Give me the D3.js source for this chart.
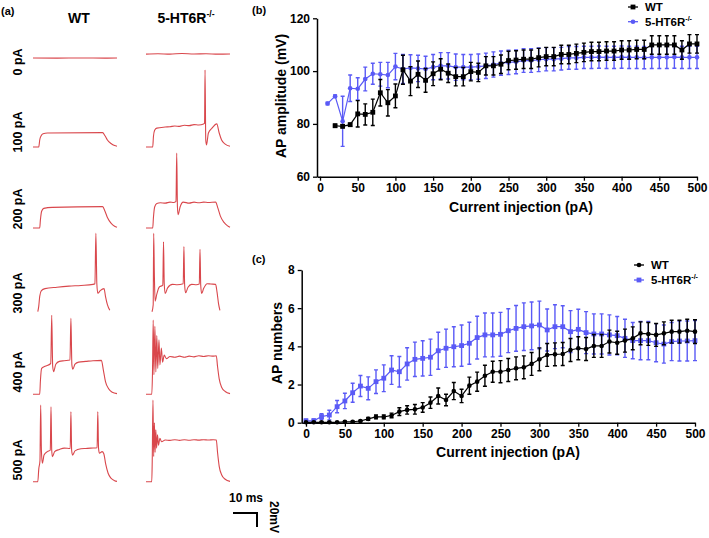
<!DOCTYPE html>
<html><head><meta charset="utf-8">
<script src="https://cdn.jsdelivr.net/npm/d3@7/dist/d3.min.js"></script>
<style>
html,body{margin:0;padding:0;background:#fff;}
svg{display:block;font-family:"Liberation Sans",Arial,sans-serif;}
</style></head>
<body>
<svg id="fig" width="709" height="538"></svg>
<script>
// ---------- DATA ----------
const currents = [0,10,20,30,40,50,60,70,80,90,100,110,120,130,140,150,160,170,180,190,200,210,220,230,240,250,260,270,280,290,300,310,320,330,340,350,360,370,380,390,400,410,420,430,440,450,460,470,480,490,500];

// Panel b: AP amplitude (mV)
const ampWT = [null,null,79.3,79.1,79.7,83.8,83.6,84.4,91.8,88.0,90.6,100.5,96.2,98.8,96.5,99.0,100.7,99.2,97.9,97.9,99.8,99.5,102.0,102.0,102.6,104.0,104.2,104.5,104.5,105.1,105.5,105.5,106.3,106.3,106.7,107.1,107.4,107.4,107.6,107.6,108.0,108.0,108.2,108.2,109.9,109.9,109.9,109.9,108.0,110.3,110.3];
const ampWTerr = [null,null,0.6,0.6,0.6,5,4,5,5,5,4.5,5.5,5.5,5,4.5,4.5,4,3.5,3.5,3.5,3.5,3.5,3.5,3.5,3.5,3.5,3.5,3.5,3.5,3.5,3.5,3.5,3.5,3.5,3.5,3.5,3.5,3.5,3.5,3.5,3.5,3.5,3.5,3.5,3.5,3.5,3.5,3.5,3.5,3.5,3.5];
const ampKO = [null,87.7,90.5,81.0,93.5,93.3,97.0,99.0,98.8,98.5,101.7,100.8,101.2,101.0,100.8,101.5,102.0,102.0,101.5,101.5,101.5,101.7,102.0,102.5,103.0,103.3,103.5,104.0,104.0,104.3,104.5,104.5,104.7,105.0,105.0,105.2,105.2,105.3,105.2,105.2,105.3,105.2,105.2,105.1,105.2,105.2,105.2,105.3,105.2,105.2,105.2];
const ampKOerr = [null,0.5,0.5,9.5,5,4.2,4.5,4,4.5,4.8,5,5.5,5,5,4.8,4.8,5,5,5,4.8,4.8,4.8,4.8,4.8,4.6,4.6,4.5,4.5,4.5,4.5,4.4,4.4,4.3,4.3,4.3,4.2,4.2,4.2,4.2,4.2,4.2,4.2,4.2,4.2,4.2,4.2,4.2,4.2,4.2,4.2,4.2];

// Panel c: AP numbers
const numWT = [0.02,0.02,0.02,0.02,0.02,0.05,0.05,0.09,0.2,0.3,0.3,0.38,0.58,0.67,0.7,0.8,1.05,1.4,1.19,1.66,1.4,1.94,2.15,2.46,2.67,2.67,2.76,2.85,2.9,3.08,3.32,3.55,3.58,3.6,3.81,3.9,3.86,4.02,4.02,4.25,4.19,4.3,4.42,4.68,4.65,4.6,4.68,4.77,4.77,4.82,4.77];
const numWTerr = [0.03,0.03,0.03,0.03,0.03,0.03,0.03,0.03,0.08,0.1,0.1,0.12,0.2,0.22,0.25,0.25,0.3,0.42,0.3,0.45,0.35,0.45,0.5,0.55,0.55,0.58,0.6,0.6,0.6,0.6,0.6,0.6,0.6,0.6,0.6,0.6,0.6,0.6,0.6,0.6,0.6,0.6,0.6,0.6,0.6,0.6,0.6,0.6,0.6,0.6,0.62];
const numKO = [0.1,0.1,0.32,0.4,0.84,1.14,1.57,1.92,1.8,2.15,2.33,2.76,2.67,3.08,3.32,3.37,3.43,3.77,3.9,3.98,4.04,4.16,4.46,4.6,4.6,4.63,4.82,4.94,5.03,5.07,5.12,4.86,5.03,5.03,4.77,4.89,4.72,4.65,4.65,4.6,4.56,4.42,4.3,4.3,4.3,4.19,4.12,4.25,4.28,4.28,4.3];
const numKOerr = [0.08,0.1,0.15,0.25,0.32,0.4,0.5,0.55,0.6,0.62,0.7,0.75,0.8,0.85,0.9,0.92,0.95,0.97,1.0,1.05,1.08,1.1,1.12,1.15,1.15,1.15,1.15,1.2,1.25,1.25,1.25,1.1,1.15,1.1,1.1,1.05,1.1,1.05,1.05,1.05,1.0,1.0,0.95,1.0,1.0,1.0,1.0,1.0,1.05,1.05,1.05];

const xTicks = [0,50,100,150,200,250,300,350,400,450,500];
const ampTicks = [60,80,100,120];
const numTicks = [0,2,4,6,8];
const seriesNames = ["WT","5-HT6R"];
const rowLabels = ["0 pA","100 pA","200 pA","300 pA","400 pA","500 pA"];

// Panel a: example voltage traces, [time ms, membrane potential mV]
const traceWT0 = [[0,-70],[10,-70.2],[20,-70],[30,-70.2],[35,-70]];
const traceKO0 = [[0,-64.5],[5,-64],[10,-64.5],[15,-63.5],[20,-64.3],[25,-64],[30,-64.5],[35,-64.2]];
const traceWT100 = [[0,-70],[2.4,-70],[2.8,-60],[3.4,-54],[4.2,-51],[6,-50],[29,-49.5],[30,-54],[31,-60],[32.5,-65],[34,-68],[35,-69]];
const traceKO100 = [[0,-70],[2.8,-70],[3.1,-55],[3.6,-46],[4.5,-43],[8,-41.5],[10,-41],[12,-40],[14,-40.5],[16,-39],[18,-39.5],[20,-38],[22,-38.5],[24,-37],[24.4,-36],[24.6,40],[24.9,-60],[25.2,-67],[26,-50],[27.5,-43],[29.5,-37],[30.5,-50],[31.5,-60],[33,-66],[35,-69]];
const traceWT200 = [[0,-70],[2.8,-70],[3.1,-58],[3.6,-46],[4.5,-42],[8,-40.5],[29,-39.5],[30,-46],[31,-55],[32.5,-63],[34,-67.5],[35,-69]];
const traceKO200 = [[0,-70],[2.8,-70],[3.1,-55],[3.6,-40],[4.5,-35],[6,-34],[8,-34.5],[10,-33],[11.5,-33.5],[12.5,-32],[12.8,37],[13.1,-40],[13.4,-51],[14.2,-40],[15.5,-33],[18,-34.5],[20,-33],[22,-34],[24,-33],[26,-33.5],[29,-33],[30,-42],[31,-53],[32.5,-62],[34,-67],[35,-69]];
const traceWT300 = [[2,-70],[2.4,-62],[2.8,-48],[3.5,-40],[5,-37],[10,-35],[15,-33.5],[20,-32.5],[25,-31],[25.8,-30],[26.2,42],[26.6,-30],[27,-43.7],[28,-40],[29.6,-37],[30.2,-48],[31,-60],[32,-68]];
const traceKO300 = [[2.5,-70],[3.0,-60],[3.2,42],[3.5,-20],[3.8,-55],[4.5,-45],[5.5,-35],[7,-32],[7.3,30],[7.6,-30],[8,-44],[9,-36],[11,-31],[13,-31.5],[15.5,-30],[15.8,23],[16.1,-32],[16.5,-43],[17.5,-35],[19,-31],[21,-31.5],[22.2,-30.5],[22.5,19],[22.8,-32],[23.2,-44],[24,-37],[25.5,-30],[27,-30.5],[29,-31],[29.6,-42],[30.2,-58],[30.8,-68]];
const traceWT400 = [[0,-70],[2.8,-70],[3.1,-50],[3.6,-33],[5,-30],[7.4,-26],[7.8,43],[8.2,-30],[8.6,-37.6],[9.5,-27],[11,-23],[13,-22],[15.4,-21],[15.8,38.6],[16.2,-28],[16.6,-34],[17.5,-27],[19,-24],[22,-23],[25,-22],[28.5,-21.5],[29.3,-35],[30.2,-52],[31.5,-62],[33,-67],[35,-69]];
const traceKO400 = [[0,-70],[2.4,-70],[2.7,-40],[3.0,36],[3.3,-42],[3.7,27],[4.1,-38],[4.5,14],[4.9,-33],[5.4,8],[5.8,-28],[6.4,-4],[6.9,-24],[7.6,-14],[8.5,-19],[10,-16],[12,-17],[14,-15.5],[16,-17],[18,-15.5],[20,-16.5],[22,-15],[24,-16],[26,-15],[28,-15.5],[29.3,-15],[29.8,-30],[30.5,-48],[31.5,-60],[33,-66],[35,-69]];
const traceWT500 = [[0,-70],[2,-70],[2.4,-52],[2.9,-40],[3.2,39.5],[3.5,-25],[3.9,-43.7],[4.6,-32],[6,-27],[7.2,-25],[7.5,37],[7.8,-25],[8.1,-34.3],[9,-27],[11,-24],[13,-22],[15.5,-22.5],[15.8,30],[16.1,-25],[16.5,-32],[17.5,-26],[20,-23],[22,-22.5],[24,-22],[26.7,-21.5],[27,30],[27.3,-22],[27.7,-29.4],[28.8,-27],[29.5,-30],[30.3,-45],[31.3,-58],[32.5,-65],[34,-68.5],[35,-69.5]];
const traceKO500 = [[0,-70],[2.4,-70],[2.6,-40],[2.9,46.7],[3.2,-34],[3.5,14],[3.8,-28],[4.1,4],[4.4,-22],[4.8,-3],[5.2,-18],[5.8,-8],[6.5,-13],[8,-10.5],[10,-11],[12,-10],[14,-11],[16,-10],[18,-10.8],[20,-10],[22,-10.6],[24,-10],[26,-10.5],[28,-10],[29.3,-10.5],[29.8,-28],[30.5,-48],[31.5,-60],[33,-66.5],[35,-69.5]];
const tracesWT = [traceWT0,traceWT100,traceWT200,traceWT300,traceWT400,traceWT500];
const tracesKO = [traceKO0,traceKO100,traceKO200,traceKO300,traceKO400,traceKO500];
const scaleBarMs = 10, scaleBarMv = 20;

// ---------- STYLE ----------
const BLACK = "#000", BLUE = "#5a5af6", RED = "#d9474c";
const FONT = '"Liberation Sans",Arial,sans-serif';
const svg = d3.select("#fig");

function txt(g, x, y, s, opts={}) {
  const t = g.append("text").attr("x", x).attr("y", y).text(s)
    .attr("font-size", opts.size||12).attr("font-weight", opts.weight||"bold")
    .attr("text-anchor", opts.anchor||"start").attr("fill", "#000");
  if (opts.rotate!=null) t.attr("transform", `rotate(${opts.rotate},${x},${y})`);
  return t;
}
function ko(g, x, y, opts={}) {
  const t = txt(g, x, y, "5-HT6R", opts);
  t.append("tspan").attr("font-size", (opts.size||12)*0.62).attr("dy", -(opts.size||12)*0.42).text("-/-");
  return t;
}

// ---------- PANEL A ----------
const rowBase = [58,147,228,311.7,394.3,481.7];
const tWT = d3.scaleLinear().domain([0,35]).range([33,117]);
const tKO = d3.scaleLinear().domain([0,35]).range([146,230]);
const pa = svg.append("g");
txt(pa, 1, 15, "(a)", {size:11});
txt(pa, 79, 23, "WT", {size:14, anchor:"middle"});
ko(pa, 186, 23, {size:14, anchor:"middle"});
const rowLabelY = [62,132,209,293,372,460];
rowLabels.forEach((l,i)=> txt(pa, 22, rowLabelY[i], l, {size:12.5, anchor:"middle", rotate:-90}));
rowBase.forEach((b,i)=>{
  const v = d3.scaleLinear().domain([-70,30]).range([b, b-70]);
  [[tracesWT[i], tWT],[tracesKO[i], tKO]].forEach(([tr, ts])=>{
    const line = d3.line().x(d=>ts(d[0])).y(d=>v(d[1])).curve(d3.curveMonotoneX);
    pa.append("path").attr("d", line(tr)).attr("fill","none").attr("stroke",RED).attr("stroke-width",1.1);
  });
});
// scale bar
{
  const sbT = d3.scaleLinear().domain([0,35]).range([233, 317]);
  const v = d3.scaleLinear().domain([0,100]).range([513, 583]);
  const x0 = sbT(0), x1 = sbT(scaleBarMs), y0 = v(0), y1 = v(scaleBarMv);
  pa.append("path").attr("d", `M${x0},${y0}H${x1}V${y1}`).attr("fill","none").attr("stroke","#000").attr("stroke-width",2);
  txt(pa, (x0+x1)/2+1, 502, "10 ms", {size:12, anchor:"middle"});
  txt(pa, 270, 517, "20mV", {size:12, anchor:"middle", rotate:90});
}

// ---------- common plot helper ----------
function plot(cfg) {
  const g = svg.append("g");
  const x = cfg.x, y = cfg.y;
  const ax = g.append("g").attr("transform", `translate(0,${cfg.yAxisPos})`)
    .call(d3.axisBottom(x).tickValues(xTicks).tickSize(4).tickSizeOuter(0).tickPadding(3));
  const ay = g.append("g").attr("transform", `translate(${cfg.xAxisPos},0)`)
    .call(d3.axisLeft(y).tickValues(cfg.yTicks).tickSize(4).tickSizeOuter(0).tickPadding(3));
  [ax, ay].forEach(a=>{
    a.select(".domain").attr("stroke","#000").attr("stroke-width",1.5);
    a.selectAll(".tick line").attr("stroke","#000").attr("stroke-width",1.3);
    a.selectAll(".tick text").attr("font-size",12).attr("font-weight","bold").attr("font-family",FONT).attr("fill","#000");
  });
  cfg.series.forEach(s=>{
    const pts = currents.map((c,i)=>({c, v:s.vals[i], e:s.err[i]})).filter(d=>d.v!=null);
    const gs = g.append("g");
    gs.append("path").attr("d", d3.line().x(d=>x(d.c)).y(d=>y(d.v))(pts))
      .attr("fill","none").attr("stroke",s.color).attr("stroke-width",1.2);
    pts.forEach(d=>{
      const ya = y(d.v+d.e), yb = y(d.v-d.e), xc = x(d.c);
      gs.append("path").attr("d", `M${xc},${ya}V${yb}M${xc-2},${ya}H${xc+2}M${xc-2},${yb}H${xc+2}`)
        .attr("stroke", s.color).attr("stroke-width",1.4).attr("fill","none");
    });
    pts.forEach(d=>{
      if (s.shape==="square") gs.append("rect").attr("x",x(d.c)-2.4).attr("y",y(d.v)-2.4).attr("width",4.8).attr("height",4.8).attr("fill",s.color);
      else gs.append("circle").attr("cx",x(d.c)).attr("cy",y(d.v)).attr("r",2.3).attr("fill",s.color);
    });
  });
  // legend
  cfg.series.slice().reverse();
  cfg.series.forEach((s,i)=>{
    const lx = cfg.legend[0], ly = cfg.legend[1] + i*cfg.legend[2];
    g.append("line").attr("x1",lx).attr("x2",lx+10).attr("y1",ly).attr("y2",ly).attr("stroke",s.color).attr("stroke-width",1.3);
    if (s.shape==="square") g.append("rect").attr("x",lx+5-2.4).attr("y",ly-2.4).attr("width",4.8).attr("height",4.8).attr("fill",s.color);
    else g.append("circle").attr("cx",lx+5).attr("cy",ly).attr("r",2.3).attr("fill",s.color);
    if (s.name==="WT") txt(g, lx+17, ly+4, "WT", {size:11.5});
    else ko(g, lx+17, ly+4, {size:11.5});
  });
  txt(g, cfg.title[0], cfg.title[1], cfg.title[2], {size:11});
  txt(g, cfg.ytitle[0], cfg.ytitle[1], cfg.ytitle[2], {size:14, anchor:"middle", rotate:-90});
  txt(g, cfg.xtitle[0], cfg.xtitle[1], "Current injection (pA)", {size:14, anchor:"middle"});
}

// ---------- PANEL B ----------
plot({
  x: d3.scaleLinear().domain([-4,500]).range([317,697]),
  y: d3.scaleLinear().domain([60,120]).range([176.7,18.3]),
  yAxisPos: 176.7, xAxisPos: 317, yTicks: ampTicks,
  series: [
    {name:seriesNames[1], vals:ampKO, err:ampKOerr, color:BLUE, shape:"circle"},
    {name:seriesNames[0], vals:ampWT, err:ampWTerr, color:BLACK, shape:"square"}
  ],
  legend: [628, 21.7, -14.7],
  title: [252, 14, "(b)"],
  ytitle: [286, 96, "AP amplitude (mV)"],
  xtitle: [521, 212]
});

// ---------- PANEL C ----------
plot({
  x: d3.scaleLinear().domain([-5.5,500]).range([301.7,695]),
  y: d3.scaleLinear().domain([0,8]).range([422.7,270]),
  yAxisPos: 422.7, xAxisPos: 301.7, yTicks: numTicks,
  series: [
    {name:seriesNames[1], vals:numKO, err:numKOerr, color:BLUE, shape:"square"},
    {name:seriesNames[0], vals:numWT, err:numWTerr, color:BLACK, shape:"circle"}
  ],
  legend: [634, 280, -15],
  title: [252, 263, "(c)"],
  ytitle: [282, 343, "AP numbers"],
  xtitle: [508, 457]
});
</script>
</body></html>
